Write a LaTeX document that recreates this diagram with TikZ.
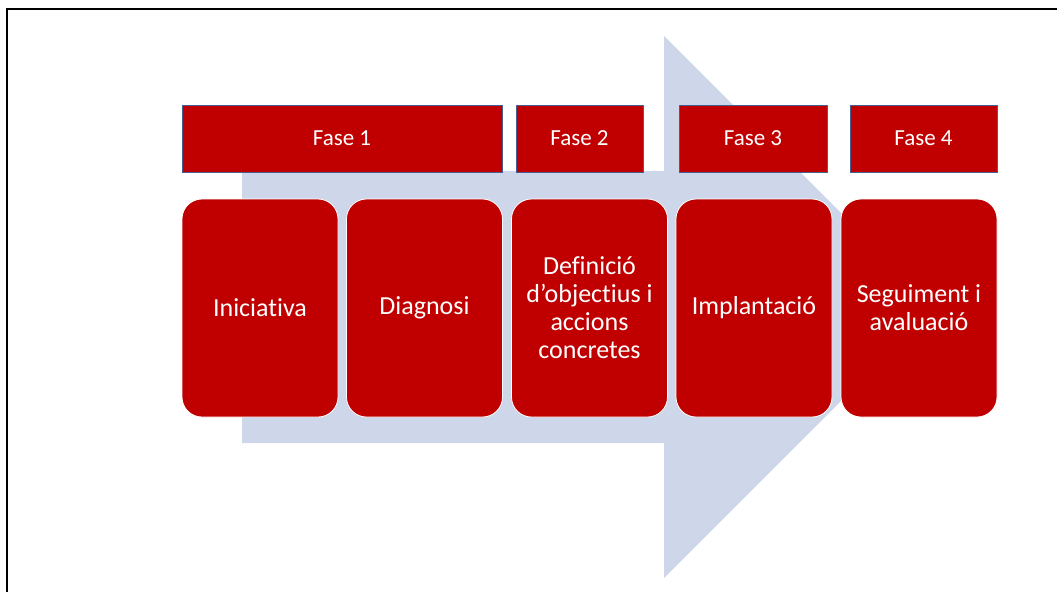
\documentclass[tikz,border=0pt]{standalone}
\usepackage{fontspec}
\setmainfont[Ligatures=NoCommon]{Carlito}
\definecolor{fasered}{RGB}{192,0,0}
\definecolor{arrowblue}{RGB}{206,214,234}
\definecolor{faseedge}{RGB}{70,95,145}
\begin{document}
\begin{tikzpicture}[x=1pt,y=-1pt,
  fasebox/.style={rectangle, fill=fasered, draw=faseedge, line width=0.6pt,
    minimum height=67pt, inner sep=0pt, text=white, font=\fontsize{23}{27}\selectfont},
  stagebox/.style={rectangle, rounded corners=20pt, fill=fasered, draw=white, line width=0.8pt,
    minimum width=156pt, minimum height=218pt, inner sep=0pt, text=white, align=center,
    font=\fontsize{26}{28}\selectfont}]
\useasboundingbox (0,0) rectangle (1057,592);
% frame (top and left edges)
\draw[line width=2pt, black] (7,592) -- (7,9) -- (1057,9);
% big arrow
\fill[arrowblue] (242,171) -- (664,171) -- (664,36) -- (935,307) -- (664,578) -- (664,443) -- (242,443) -- cycle;
% phase headers
\node[fasebox, minimum width=320pt] (f1) at (342,138.5) {\raisebox{-2pt}{Fase 1}};
\node[fasebox, minimum width=127pt] (f2) at (579.5,138.5) {\raisebox{1pt}{Fase 2}};
\node[fasebox, minimum width=148pt] (f3) at (753,138.5) {\raisebox{1pt}{Fase 3}};
\node[fasebox, minimum width=147pt] (f4) at (923.5,138.5) {\raisebox{1pt}{Fase 4}};
% stages
\node[stagebox] (s1) at (260,308) {Iniciativa};
\node[stagebox] (s2) at (424.5,308) {Diagnosi};
\node[stagebox] (s3) at (589.5,308) {Definició\\d’objectius i\\accions\\concretes};
\node[stagebox] (s4) at (754,308) {Implantació};
\node[stagebox] (s5) at (919,308) {Seguiment i\\avaluació};
\end{tikzpicture}
\end{document}
